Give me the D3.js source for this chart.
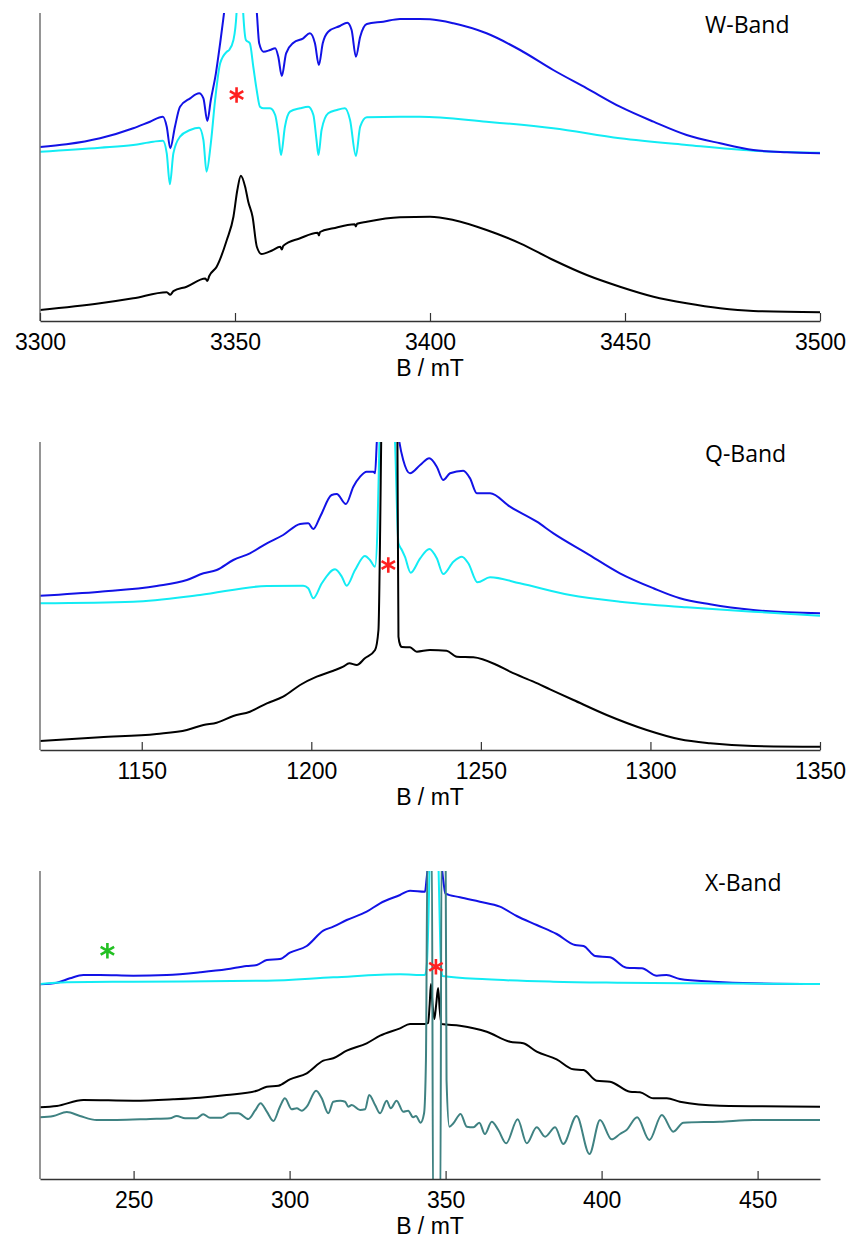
<!DOCTYPE html>
<html><head><meta charset="utf-8">
<script src="https://cdn.jsdelivr.net/npm/d3@7"></script>
<style>body{margin:0;background:#fff} svg{display:block}</style>
</head><body>
<svg id="chart" width="853" height="1240"></svg>
<script>
// ---------------- DATA ----------------
// W-band (B in mT, intensity in a.u.)
const wTicks = [3300, 3350, 3400, 3450, 3500];
const wBlue = [[3300,174],[3306.8,176.7],[3315.4,182.7],[3323.9,192.7],[3328.2,199.3],[3331.5,204.3],[3332.5,194.3],[3333.4,172.7],[3334.6,194.3],[3335.9,214.3],[3338.5,222.7],[3340.8,227.7],[3341.9,222.7],[3342.9,200],[3343.8,221],[3345.1,247.7],[3346.2,278],[3347.2,308.3],[3351,430],[3355.6,308.3],[3356.2,277.7],[3357.3,269.3],[3359,271],[3360.3,272.7],[3361.1,264.3],[3362,245],[3363.1,267.7],[3365,278.3],[3367.5,282.7],[3369.2,287.7],[3370.5,277.7],[3371.5,256],[3372.5,277.7],[3373.9,289.3],[3376.9,295],[3378.8,298.3],[3379.9,291],[3381,264.3],[3382.1,284.3],[3383.8,297],[3388,299.3],[3392.3,302],[3397.4,302],[3400,301.7],[3406,297.7],[3414.5,287.7],[3423.1,271],[3431.6,251],[3440.2,232.7],[3448.7,214.3],[3457.3,199.3],[3465.8,186],[3474.4,177.7],[3482.9,171],[3491.5,168.7],[3500,167.7]];
const wCyan = [[3300,169.3],[3315.4,173.3],[3323.9,176],[3329,179.3],[3331.5,180.3],[3332.5,167.7],[3333.3,136.7],[3334.2,167.7],[3335.9,184.3],[3338.5,191],[3340.8,193.3],[3341.9,181],[3342.7,149.3],[3343.8,177.7],[3344.9,221],[3346.2,257.7],[3347.9,269.3],[3348.5,271],[3349.6,281],[3350.4,308.3],[3351.2,400],[3352.1,308.3],[3352.8,281],[3353.8,277.7],[3354.7,254],[3355.6,230],[3356.4,214.3],[3357.3,212.7],[3359,212.7],[3360.3,206],[3361.1,187.7],[3361.8,166],[3362.8,194.3],[3364.1,209.3],[3366.7,212.7],[3368.8,214.3],[3370.1,206],[3370.9,181],[3371.4,166],[3372.2,191],[3373.9,207.7],[3376.1,211],[3378.2,212.7],[3379.5,201],[3381,165],[3382.1,194.3],[3383.8,203.7],[3392.3,204.3],[3397.4,204.3],[3414.5,199.3],[3431.6,192.7],[3448.7,182.7],[3465.8,176],[3482.9,170.3],[3500,168.3]];
const wBlack = [[3300,11],[3315.4,17.7],[3323.9,22.7],[3332.5,28.8],[3333.4,26.3],[3334.2,29.8],[3337.6,34.3],[3342.4,42.5],[3342.9,40],[3343.4,45],[3345.3,54.3],[3347.9,81],[3349.6,104.3],[3350.6,131],[3351.5,145.3],[3352.6,134.3],[3353.4,119.3],[3354.5,104.3],[3355.6,74.3],[3356.8,67],[3359.5,70.5],[3361.6,74.2],[3362,71.5],[3362.4,75.2],[3366.7,82.7],[3371.2,88.3],[3371.5,85.5],[3371.8,89],[3375.2,92.7],[3380.7,96.8],[3381,94.5],[3381.3,97.3],[3383.8,99.3],[3392.3,103.7],[3400,104.3],[3406,101],[3414.5,91],[3423.1,77.7],[3431.6,61],[3440.2,46],[3448.7,34.3],[3457.3,24.3],[3465.8,17.7],[3474.4,12.7],[3482.9,10],[3500,8.7]];

// Q-band
const qTicks = [1150, 1200, 1250, 1300, 1350];
const qBlue = [[1120,154.3],[1137.7,158.3],[1154.4,164],[1163.3,170],[1168.2,176.7],[1172.1,180],[1177,190],[1181.9,196.7],[1186.9,206.7],[1191.7,215],[1196.7,226],[1199.1,226.7],[1200.6,221],[1202.6,233.3],[1206,255],[1207.5,256],[1210.2,246],[1212.4,263.3],[1214.4,273.3],[1216.3,278.3],[1218.3,278.3],[1218.8,276.7],[1219.3,307],[1222.6,450],[1226,307.3],[1227.1,290],[1229.1,276.7],[1232.1,285],[1234.8,291.7],[1237,283.3],[1238.9,270],[1240.9,276.7],[1244.8,279.3],[1246.8,271.7],[1248.8,256.7],[1252.7,256.7],[1258.6,243.3],[1266.5,228.3],[1271.4,216.7],[1281.2,196.7],[1291,176.7],[1300.9,161.7],[1308.7,151.7],[1317.6,145.7],[1330.3,140],[1350,136.7]];
const qCyan = [[1120,146.7],[1147.5,148.3],[1167.2,155],[1186.9,164],[1197.6,164.3],[1199.1,161.7],[1200.6,151.7],[1203.1,166.7],[1207,180.7],[1209,173.3],[1210.4,164.3],[1212.9,180],[1215.8,194],[1217.3,190],[1218.8,183.3],[1219.5,220],[1220.1,307],[1222.5,420],[1224.7,307.3],[1225.7,206.7],[1226.7,200],[1227.6,193.3],[1229.3,177.3],[1232.1,191.7],[1234.8,201],[1237,191.7],[1238.9,176],[1241.9,188.3],[1244.4,193.3],[1246.3,186.7],[1249,167.7],[1252.7,172.7],[1261.5,166.7],[1276.3,155],[1291,148.3],[1310.7,142.7],[1330.3,138.3],[1350,134.3]];
const qBlack = [[1120,9],[1137.7,12.7],[1154.4,16],[1163.3,20],[1168.2,25],[1172.1,27.3],[1177,34],[1181.9,38.3],[1186.9,46.7],[1191.7,53.3],[1196.7,65],[1201.6,73.3],[1206.5,79.3],[1209.4,83.3],[1211.2,86.7],[1213.4,85],[1215.8,91.7],[1218.8,100],[1219.8,120],[1220.3,220],[1220.6,307],[1223,700],[1225.4,307.3],[1225.7,113.3],[1226.2,105],[1226.7,103],[1229.1,102.7],[1231.1,98.3],[1235,100],[1239.9,99.3],[1242.9,93.3],[1247.8,92.7],[1254.7,85],[1258.6,78.3],[1265.5,68.3],[1270.4,60.7],[1277.3,50],[1287.1,35],[1298.9,20],[1308.7,10.7],[1317.6,6.7],[1330.3,4],[1350,3.3]];

// X-band
const xTicks = [250, 300, 350, 400, 450];
const xBlue = [[220,194.7],[225.4,196.3],[229.6,200.7],[233.9,204],[239.2,204],[249.9,203.3],[260.6,204],[271.3,206.7],[279.8,209.7],[286.2,213],[289.5,214],[292.7,219],[296.9,220],[300.1,226.3],[305.5,233],[310.8,248.3],[314,252.3],[318.3,259],[324.7,267.3],[329,275.7],[335.4,284],[338.6,288.3],[343.4,287.3],[343.9,300],[344.2,309],[346.5,500],[348.9,309],[349.4,295],[349.9,285.7],[354.6,281.7],[361,277.3],[367.4,272.3],[372.8,263],[379.2,254],[385.6,245],[391.5,234],[394.2,233],[397.9,223],[402.7,221.7],[408,211.3],[412.9,210.7],[417.7,203.3],[420.8,204],[425.1,200],[435.8,197.3],[448.6,195.7],[470,195]];
const xCyan = [[220,195],[228.6,196.7],[249.9,197.3],[292.7,198.3],[314,201.7],[335.4,204.7],[343.4,204],[344,215],[344.5,260],[345,330],[346.3,420],[347.6,330],[348.1,260],[348.5,215],[349,203],[363.2,199.7],[384.5,197.3],[405.9,196.3],[427.3,195.7],[470,195]];
const xBlack = [[220,71.7],[225.4,73],[233.9,79],[249.9,78.3],[262.7,79.7],[271.3,81.3],[279.8,84],[289.5,88.3],[292.7,92.3],[296.4,93.3],[300.1,99.7],[305.5,105.7],[310.8,118.3],[314,120.7],[318.3,128.3],[324.7,135.7],[329,143.3],[335.4,150.7],[338.6,155],[343.4,155],[344.4,156],[344.9,175],[345.3,195],[345.8,175],[346.4,160],[347,175],[347.6,191],[348.1,170],[348.7,155],[354.6,153.3],[363.2,147.3],[370.6,137.3],[374.9,135.7],[379.2,127.3],[385.6,119.7],[390.9,109.7],[394.2,109],[398.4,98.3],[402.7,97.3],[409.1,87.3],[412.3,86.7],[416.6,80.7],[420.9,80.7],[425.1,77.3],[437.9,73.3],[470,72.3]];
const xTeal = [[220,61.7],[224.3,63],[228.6,67],[232.8,63],[238.2,59],[244.6,59],[255.3,60],[261.7,60.7],[263.8,63],[266.5,60.7],[270.2,60.7],[272.3,64.7],[274.5,61.3],[278.2,61.3],[280.9,65.7],[283.6,65.7],[286.8,60],[288.9,68.3],[290.7,75.7],[292.7,67.3],[294.8,58],[296.9,72.3],[298.5,80.7],[300.7,69.7],[302.3,70.7],[303.9,68.3],[305.5,72.3],[308.5,88.3],[310.3,80.7],[312.4,65.7],[314,77.3],[316.2,78.3],[317.8,77.3],[318.8,72.3],[319.9,74],[322.6,69],[324.2,69.7],[325.5,84],[327.4,74],[329,65.7],[331.1,78.3],[332.4,70.7],[334.3,78.3],[336.4,67.3],[338,68.3],[339.6,61.7],[340.5,63],[342,56.3],[343.1,65.7],[343.7,119],[344.2,330],[345.6,330],[346,-40],[348.3,-40],[348.7,330],[350,330],[350.3,99],[351.2,52.3],[352.5,55.7],[354.8,65],[356.8,52.3],[358.9,51.7],[360.8,56.3],[362.6,45],[364.8,57.3],[366.9,49],[369.4,35.7],[373.1,59.7],[376,35.7],[379.2,51.7],[381.9,42.3],[385.1,51.7],[387.7,35],[392,63],[396.1,25],[399.5,59],[403.2,39.7],[405.9,45],[408,49],[411.4,61.7],[415.3,39],[419.3,64],[423,47.3],[426.2,56.3],[437.9,57.3],[448.6,59],[470,59]];

// markers: [B, intensity]
const wStars = [[3350.4, 226]];
const qStars = [[1222.7, 185]];
const xStarsRed = [[346.9, 212.3]];
const xStarsGreen = [[241.6, 228.3]];

// ---------------- LAYOUT ----------------
const svg = d3.select('#chart');
const L = 40, R = 820, H = 308;
const COL = {blue:'#1212e6', cyan:'#12ecf4', black:'#000000', teal:'#3f8282', red:'#ff2020', green:'#22c022'};
const FONT = 'Liberation Sans, Arial, Helvetica, sans-serif';

const panels = [
  {id:'w', top:13, domain:[3300,3500], ticks:wTicks, label:'W-Band',
   series:[[wCyan,COL.cyan],[wBlue,COL.blue],[wBlack,COL.black]],
   stars:[[wStars,COL.red]]},
  {id:'q', top:442, domain:[1120,1350], ticks:qTicks, label:'Q-Band',
   series:[[qBlue,COL.blue],[qCyan,COL.cyan],[qBlack,COL.black]],
   stars:[[qStars,COL.red]]},
  {id:'x', top:871, domain:[220,470], ticks:xTicks, label:'X-Band',
   series:[[xBlue,COL.blue],[xCyan,COL.cyan],[xBlack,COL.black],[xTeal,COL.teal]],
   stars:[[xStarsRed,COL.red],[xStarsGreen,COL.green]]}
];

panels.forEach(p => {
  const bottom = p.top + H;
  const x = d3.scaleLinear().domain(p.domain).range([L, R]);
  const y = d3.scaleLinear().domain([0, H]).range([bottom, p.top]);
  const g = svg.append('g');

  g.append('clipPath').attr('id', 'clip-' + p.id)
    .append('rect').attr('x', L).attr('y', p.top).attr('width', R - L).attr('height', H);

  const line = d3.line().x(d => x(d[0])).y(d => y(d[1])).curve(d3.curveMonotoneX);
  const lg = g.append('g').attr('clip-path', 'url(#clip-' + p.id + ')');
  p.series.forEach(([data, c]) => {
    lg.append('path').datum(data).attr('d', line)
      .attr('fill', 'none').attr('stroke', c).attr('stroke-width', 2)
      .attr('stroke-linejoin', 'round');
  });

  // left axis (line only)
  g.append('line').attr('x1', L).attr('x2', L).attr('y1', p.top).attr('y2', bottom)
    .attr('stroke', '#7a7a7a').attr('stroke-width', 1.6);

  // bottom axis
  const ax = g.append('g').attr('transform', `translate(0,${bottom})`)
    .call(d3.axisBottom(x).tickValues(p.ticks).tickSizeInner(-8).tickSizeOuter(0).tickFormat(d3.format('d')));
  ax.select('.domain').attr('stroke', '#333').attr('stroke-width', 1.4);
  ax.selectAll('.tick line').attr('stroke', '#333').attr('stroke-width', 1.2);
  ax.selectAll('.tick text').attr('y', 29).attr('dy', 0)
    .attr('font-family', FONT).attr('font-size', 23).attr('fill', '#000');

  g.append('text').attr('x', (L + R) / 2).attr('y', bottom + 55)
    .attr('text-anchor', 'middle').attr('font-family', FONT)
    .attr('font-size', 23).text('B / mT');

  g.append('text').attr('x', 705).attr('y', p.top + 20)
    .attr('font-family', 'Open Sans, Noto Sans, sans-serif').attr('font-size', 23).text(p.label);

  const sym = d3.symbol().type(d3.symbolAsterisk).size(170);
  p.stars.forEach(([pts, c]) => {
    g.selectAll(null).data(pts).enter().append('path')
      .attr('transform', d => `translate(${x(d[0])},${y(d[1])})`)
      .attr('d', sym).attr('fill', 'none').attr('stroke', c).attr('stroke-width', 2.6);
  });
});
</script>
</body></html>
